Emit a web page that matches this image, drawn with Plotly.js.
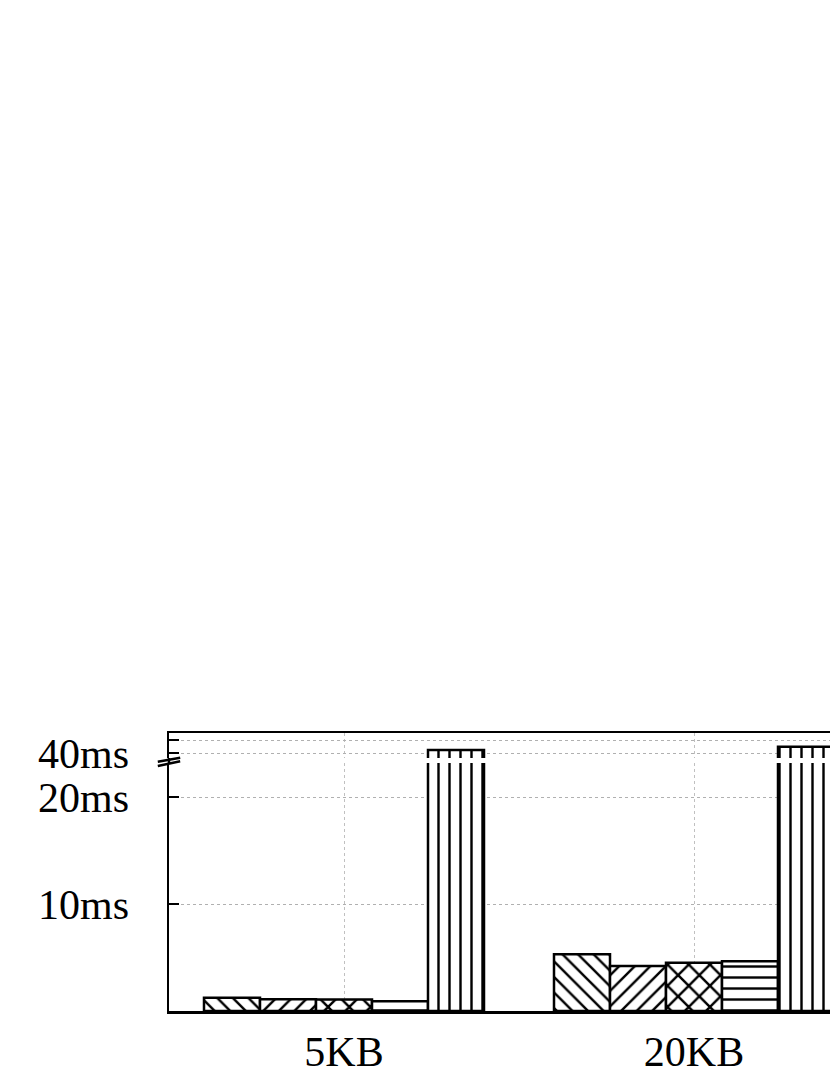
<!DOCTYPE html>
<html>
<head>
<meta charset="utf-8">
<script src="https://cdn.plot.ly/plotly-3.0.1.min.js"></script>
<style>
html,body{margin:0;padding:0;overflow:hidden;background:#fff;}
#chart{width:900px;height:1075px;}
</style>
</head>
<body>
<div id="chart"></div>
<script>
// Data
var categories = ["5KB", "20KB"];
var seriesA = [1.24, 5.3];   // "\" hatch
var seriesB = [1.09, 4.2];   // "/" hatch
var seriesC = [1.07, 4.5];   // cross hatch
var seriesD = [0.9, 4.64];   // horizontal lines
var seriesE = [42.3, 44.8];  // vertical lines (broken axis)
var yLowTickVals = [10, 20];
var yLowTickText = ["10ms", "20ms"];
var yHighTickVals = [40, 50];
var yHighTickText = ["40ms", ""];

var allSeries = [seriesA, seriesB, seriesC, seriesD, seriesE];
var shapesPat = ["\\", "/", "x", "-", "|"];
var patSize = [11, 11, 15, 11, 11];
var patSolid = [0.22, 0.22, 0.3, 0.22, 0.22];

var traces = [];
allSeries.forEach(function (vals, i) {
  var marker = {
    color: "#ffffff",
    line: {color: "#000000", width: 2.5},
    pattern: {shape: shapesPat[i], fgcolor: "#000000", bgcolor: "#ffffff", size: patSize[i], solidity: patSolid[i]}
  };
  traces.push({type: "bar", x: categories, y: vals, xaxis: "x", yaxis: "y", marker: marker, showlegend: false, hoverinfo: "skip"});
  traces.push({type: "bar", x: categories, y: vals, xaxis: "x2", yaxis: "y2", marker: marker, showlegend: false, hoverinfo: "skip"});
});

var tickFont = {family: "Liberation Serif, DejaVu Serif, serif", size: 42, color: "#000"};
var lowTop = 0.892, highBot = 0.910;

var layout = {
  width: 900, height: 1075,
  margin: {l: 169, r: 31, t: 733, b: 64},
  paper_bgcolor: "#fff", plot_bgcolor: "#fff",
  barmode: "group", bargap: 0.2, bargroupgap: 0,
  xaxis: {
    domain: [0, 1], anchor: "y", type: "category", range: [-0.5, 1.5],
    showline: true, linecolor: "#000", linewidth: 2.5,
    showgrid: true, gridcolor: "#c0c0c0", gridwidth: 1, griddash: "dot",
    ticks: "", tickfont: tickFont, ticklabelstandoff: 2, zeroline: false
  },
  xaxis2: {
    matches: "x", anchor: "y2", type: "category", side: "top",
    showline: true, linecolor: "#000", linewidth: 2.5,
    showgrid: true, gridcolor: "#c0c0c0", gridwidth: 1, griddash: "dot",
    showticklabels: false, ticks: ""
  },
  yaxis: {
    domain: [0, lowTop], range: [0, 23.18],
    tickvals: yLowTickVals, ticktext: yLowTickText,
    ticks: "inside", ticklen: 10, tickwidth: 2.5, tickcolor: "#000",
    showline: true, linecolor: "#000", linewidth: 2.5,
    showgrid: true, gridcolor: "#b0b0b0", gridwidth: 1, griddash: "dot",
    zeroline: false, tickfont: tickFont, ticklabelstandoff: 29
  },
  yaxis2: {
    domain: [highBot, 1], range: [36.15, 55.4],
    tickvals: yHighTickVals, ticktext: yHighTickText,
    ticks: "inside", ticklen: 10, tickwidth: 2.5, tickcolor: "#000",
    showline: true, linecolor: "#000", linewidth: 2.5,
    showgrid: true, gridcolor: "#b0b0b0", gridwidth: 1, griddash: "dot",
    zeroline: false, tickfont: tickFont, ticklabelstandoff: 29
  },
  shapes: [
    {type: "line", xref: "paper", yref: "paper", x0: 0, x1: 0, y0: lowTop, y1: highBot, line: {color: "#000", width: 2.5}},
    {type: "line", xref: "paper", yref: "paper", x0: -0.016, x1: 0.016, y0: 0.8968, y1: 0.9112, line: {color: "#000", width: 2.5}},
    {type: "line", xref: "paper", yref: "paper", x0: -0.016, x1: 0.016, y0: 0.8813, y1: 0.8982, line: {color: "#000", width: 2.5}}
  ]
};

Plotly.newPlot("chart", traces, layout, {staticPlot: true, displayModeBar: false});
</script>
</body>
</html>
